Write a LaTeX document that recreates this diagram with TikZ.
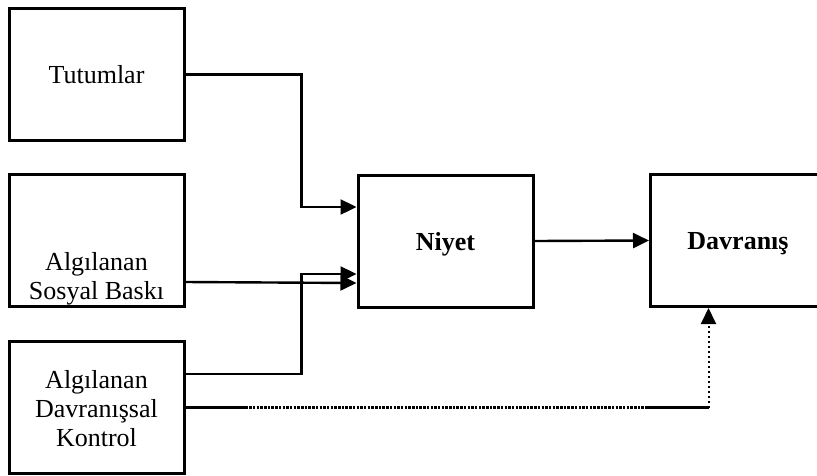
\documentclass[tikz,border=0pt]{standalone}
\usepackage{fontspec}
\setmainfont{Liberation Serif}
\usetikzlibrary{arrows.meta}
\begin{document}
\begin{tikzpicture}[x=1pt,y=-1pt,
  box/.style={draw,line width=3pt,minimum width=175pt,minimum height=132pt,inner sep=0pt},
  lbl/.style={align=center,inner sep=0pt,font=\fontsize{26pt}{29pt}\selectfont},
  blbl/.style={lbl,font=\fontsize{26pt}{29pt}\selectfont\bfseries},
  conn/.style={line width=2.4pt},
  tip/.style={-{Triangle[length=16pt,width=15pt]}},
  arr/.style={conn,tip}]
\useasboundingbox (0,0) rectangle (817,475);
\node[box] (b1) at (96.5,74.5) {};
\node[box] (b2) at (96.5,240) {};
\node[box] (b3) at (96.5,407.5) {};
\node[box] (niyet) at (445.5,241) {};
\node[box] (dav) at (738,240.5) {};
\node[lbl] (t1) at (b1.center) {Tutumlar};
\node[lbl,anchor=south] (t2) at ([yshift=2pt]b2.south) {Algılanan\\Sosyal Baskı};
\node[lbl] (t3) at ([yshift=-1pt]b3.center) {Algılanan\\Davranışsal\\Kontrol};
\node[blbl] (tn) at ([yshift=-3pt]niyet.center) {Niyet};
\node[blbl] (td) at ([yshift=-3pt]dav.center) {Davranış};
\draw[arr] (b1.east) -- ++(116,0) |- ([yshift=34pt]niyet.west);
\draw[arr] ([yshift=-42pt]b2.east) -- ([yshift=-42pt]niyet.west);
\draw[arr] ([yshift=33.5pt]b3.east) -- ++(116,0) |- ([yshift=-33pt]niyet.west);
\draw[arr] (niyet.east) -- (dav.west);
\coordinate (c1) at ([xshift=60pt]b3.east);
\coordinate (c2) at ([xshift=461pt]b3.east);
\coordinate (c3) at ([xshift=523pt]b3.east);
\draw[conn] (b3.east) -- (c1);
\draw[conn,dash pattern=on 2.5pt off 1.2pt] (c1) -- (c2);
\draw[conn] (c2) -- (c3);
\draw[conn,line width=2pt,dash pattern=on 2pt off 3pt,tip] (c3) -- (c3 |- dav.south);
\end{tikzpicture}
\end{document}
